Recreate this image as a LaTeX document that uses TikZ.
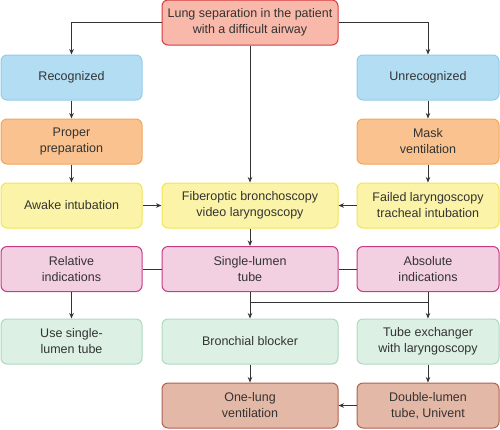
\documentclass[tikz,border=0pt]{standalone}
\usepackage{fontspec}
\setmainfont{Liberation Sans}
\usetikzlibrary{arrows.meta}
\definecolor{txt}{HTML}{333333}
\definecolor{lnk}{HTML}{333333}
\definecolor{topF}{HTML}{F9B9AA}\definecolor{topD}{HTML}{D93A3F}
\definecolor{bluF}{HTML}{B3DDF2}\definecolor{bluD}{HTML}{93CCEA}
\definecolor{oraF}{HTML}{F9C28F}\definecolor{oraD}{HTML}{F2A65A}
\definecolor{yelF}{HTML}{FBF3A8}\definecolor{yelD}{HTML}{F4E54E}
\definecolor{pinF}{HTML}{F3CFE2}\definecolor{pinD}{HTML}{C63A86}
\definecolor{grnF}{HTML}{DDF0E4}\definecolor{grnD}{HTML}{ADD9BD}
\definecolor{broF}{HTML}{E4B8A6}\definecolor{broD}{HTML}{B0604E}
\begin{document}
\begin{tikzpicture}[x=1pt,y=-1pt,
  box/.style={rectangle,rounded corners=6pt,line width=1pt,minimum height=45pt,
    inner sep=0pt,align=center,text=txt,font=\fontsize{12.5}{16}\selectfont},
  wl/.style={box,minimum width=141pt},
  wm/.style={box,minimum width=176pt},
  wr/.style={box,minimum width=142pt},
  topb/.style={fill=topF,draw=topD},
  blub/.style={fill=bluF,draw=bluD},
  orab/.style={fill=oraF,draw=oraD},
  yelb/.style={fill=yelF,draw=yelD},
  pinb/.style={fill=pinF,draw=pinD},
  grnb/.style={fill=grnF,draw=grnD},
  brob/.style={fill=broF,draw=broD},
  conn/.style={draw=lnk,line width=1pt},
  arr/.style={conn,-{Stealth[length=5.5pt,width=4.5pt]}}]
\useasboundingbox (0,0) rectangle (500,429);
\node[wm,topb] (top) at (250,22.5) {Lung separation in the patient\\with a difficult airway};
\node[wl,blub] (rec) at (71.5,77.5) {Recognized};
\node[wr,blub] (unrec) at (428,77.5) {Unrecognized};
\node[wl,orab] (prep) at (71.5,141.5) {Proper\\preparation};
\node[wr,orab] (mask) at (428,141.5) {Mask\\ventilation};
\node[wl,yelb] (awake) at (71.5,205.5) {Awake intubation};
\node[wm,yelb] (fib) at (250,205.5) {Fiberoptic bronchoscopy\\video laryngoscopy};
\node[wr,yelb] (fail) at (428,205.5) {Failed laryngoscopy\\tracheal intubation};
\node[wl,pinb] (rel) at (71.5,269) {Relative\\indications};
\node[wm,pinb] (single) at (250,269) {Single-lumen\\tube};
\node[wr,pinb] (abs) at (428,269) {Absolute\\indications};
\node[wl,grnb] (use) at (71.5,341.5) {Use single-\\lumen tube};
\node[wm,grnb] (bron) at (250,341.5) {Bronchial blocker};
\node[wr,grnb] (tube) at (428,341.5) {Tube exchanger\\with laryngoscopy};
\node[wm,brob] (olv) at (250,405.5) {One-lung\\ventilation};
\node[wr,brob] (dlt) at (428,405.5) {Double-lumen\\tube, Univent};
\coordinate (j) at (428,302);
\draw[arr] (top.west) -| (rec.north);
\draw[arr] (top.east) -| (unrec.north);
\draw[arr] (top.south) -- (fib.north);
\draw[arr] (rec) -- (prep);
\draw[arr] (prep) -- (awake);
\draw[arr] (unrec) -- (mask);
\draw[arr] (mask) -- (fail);
\draw[arr] (awake) -- (fib);
\draw[arr] (fail) -- (fib);
\draw[arr] (fib) -- (single);
\draw[conn] (rel) -- (single);
\draw[conn] (single) -- (abs);
\draw[arr] (rel) -- (use);
\draw[arr] (single) -- (bron);
\draw[arr] (abs) -- (tube);
\draw[conn] (j) -- (j -| bron.north);
\draw[arr] (bron) -- (olv);
\draw[arr] (tube) -- (dlt);
\draw[arr] (dlt) -- (olv);
\end{tikzpicture}
\end{document}
